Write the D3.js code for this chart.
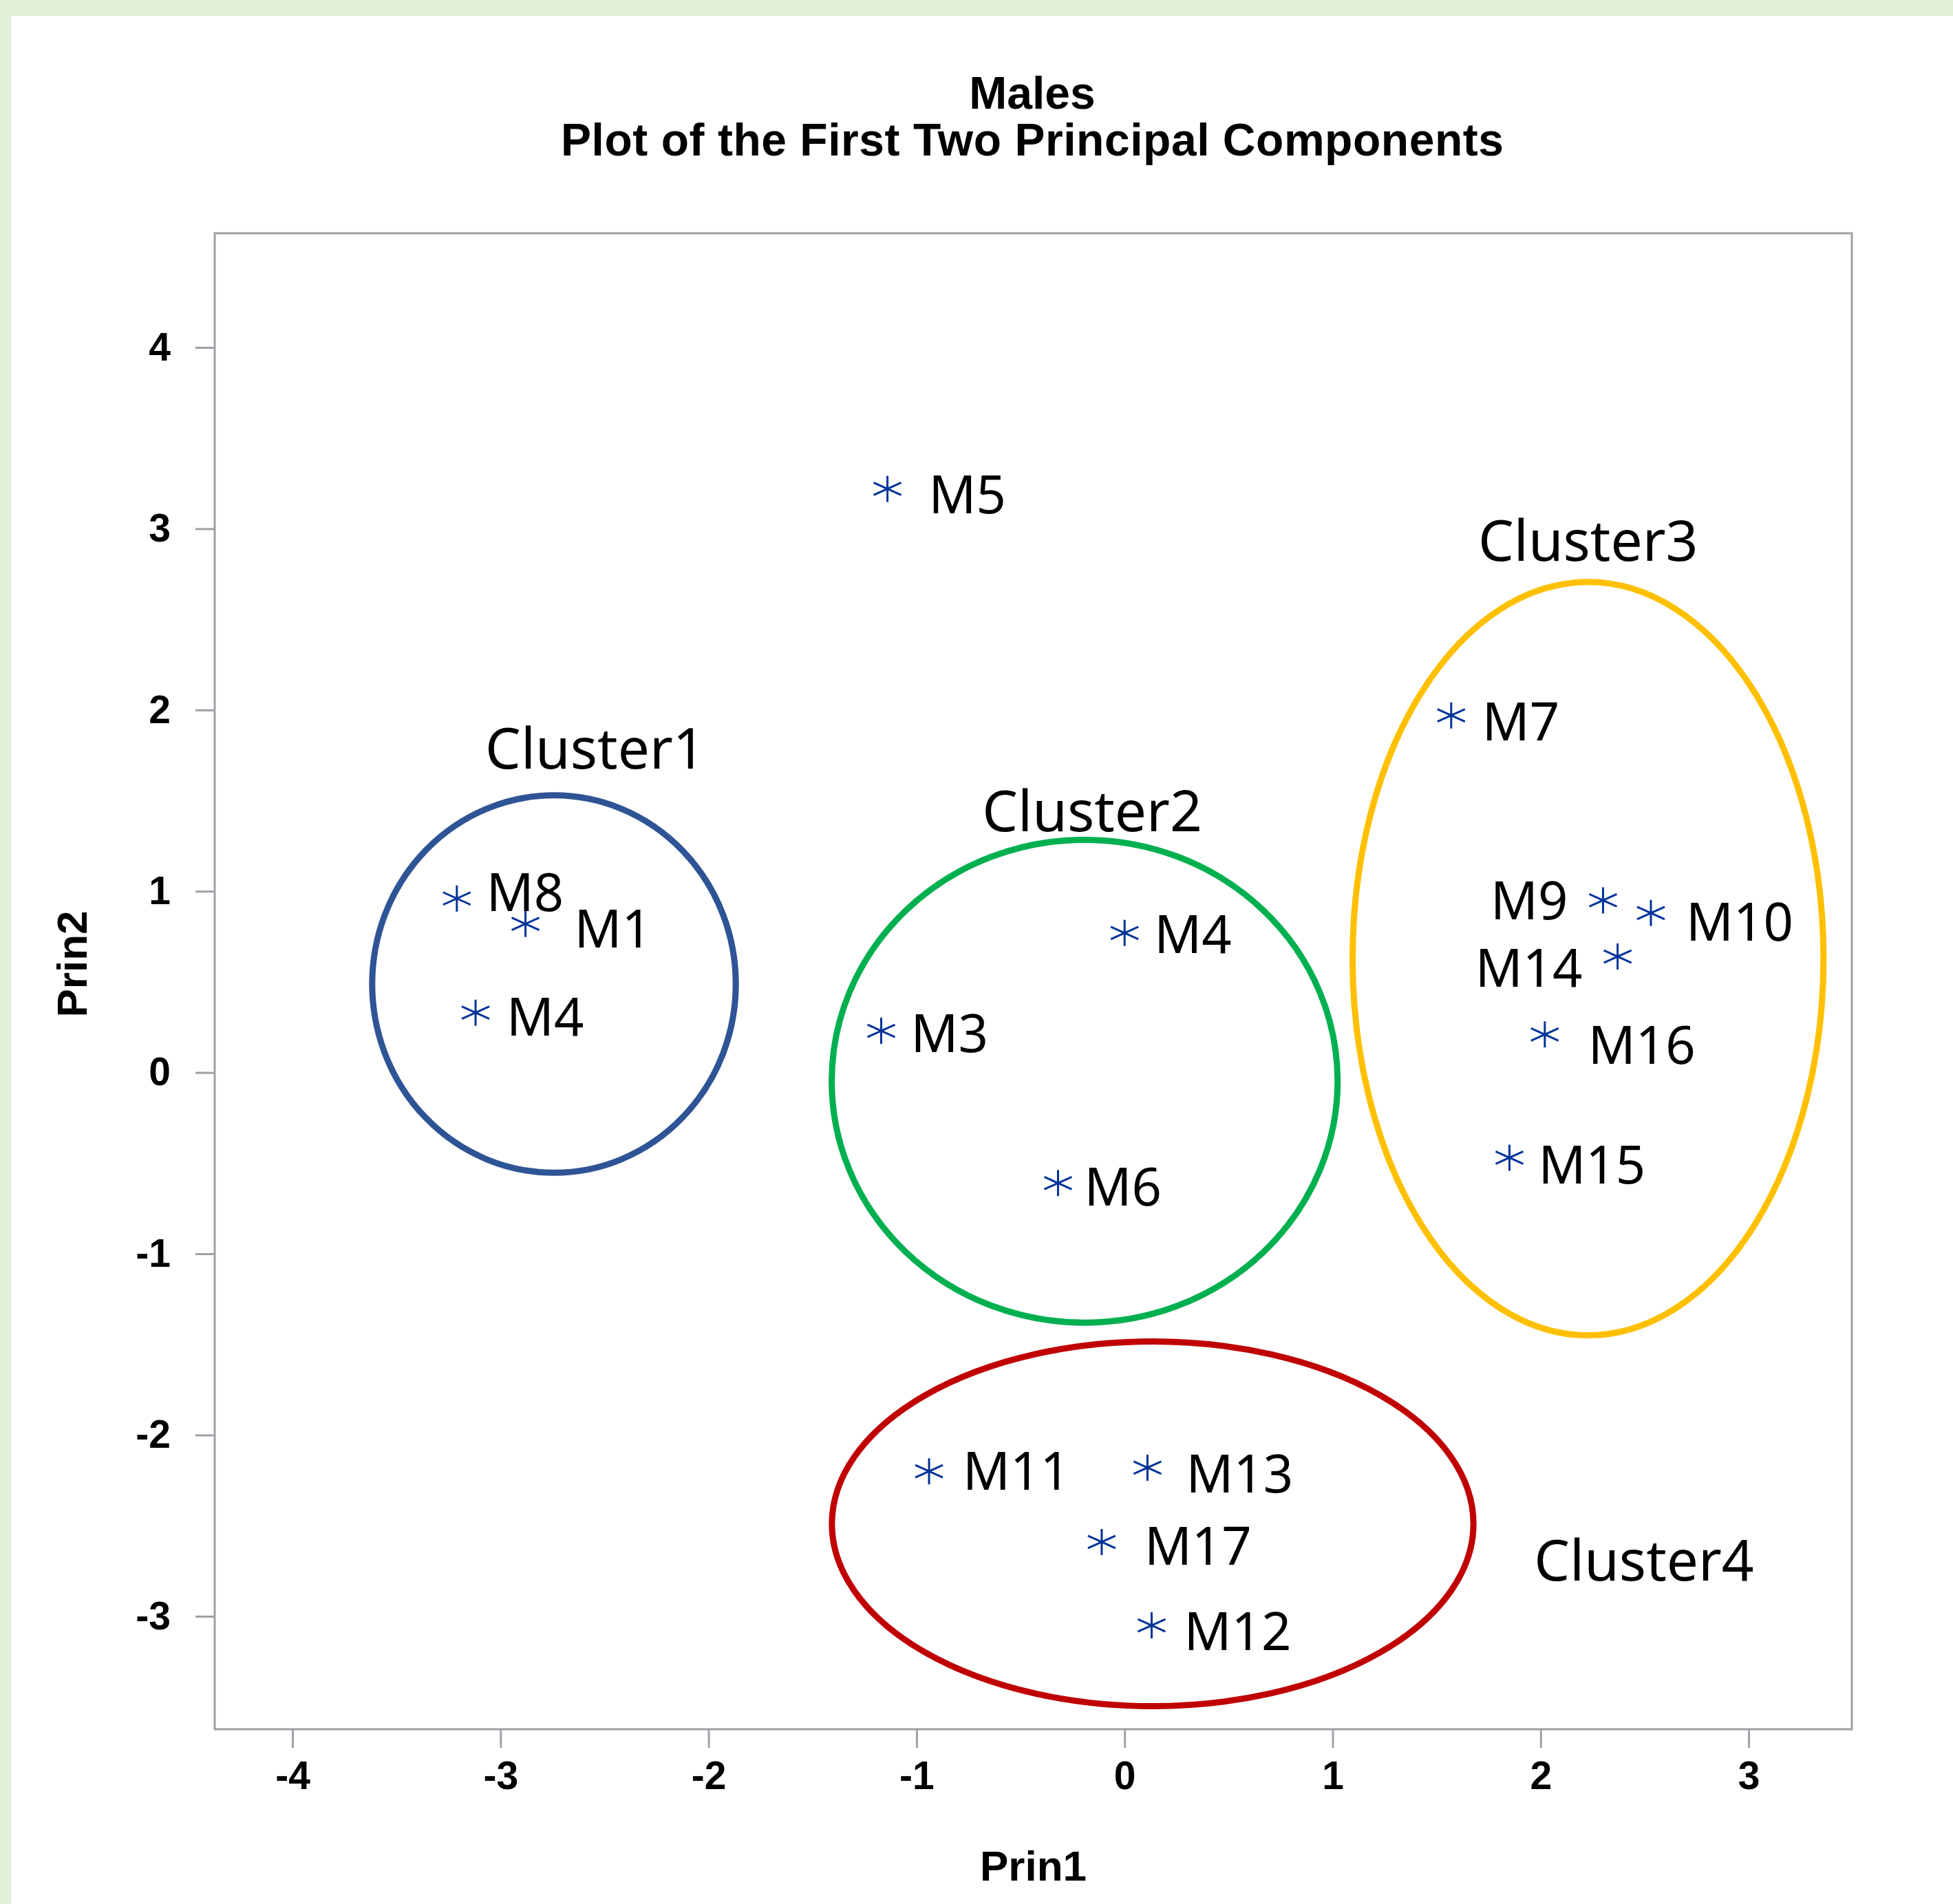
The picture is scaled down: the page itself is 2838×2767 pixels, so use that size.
<!DOCTYPE html>
<html>
<head>
<meta charset="utf-8">
<script src="https://cdn.jsdelivr.net/npm/d3@7"></script>
<style>
  body { margin: 0; padding: 0; background: #ffffff; }
  svg { display: block; }
</style>
</head>
<body>
<svg id="chart" width="2838" height="2767"></svg>
<script>
// ---------- data ----------
const pointNames = ["M5","M8","M1","M4","M4","M3","M6","M7","M9","M10","M14","M16","M15","M11","M13","M17","M12"];
const prin1 = [-1.14,-3.21,-2.88,-3.12,0.00,-1.17,-0.32,1.57,2.30,2.53,2.37,2.02,1.85,-0.94,0.11,-0.11,0.13];
const prin2 = [3.22,0.96,0.82,0.33,0.77,0.23,-0.61,1.97,0.95,0.88,0.64,0.21,-0.47,-2.20,-2.18,-2.59,-3.05];

const clusterNames = ["Cluster1","Cluster2","Cluster3","Cluster4"];
const clusterCx = [-2.743,-0.192,2.228,0.135];
const clusterCy = [0.488,-0.048,0.628,-2.490];
const clusterRx = [0.874,1.216,1.132,1.542];
const clusterRy = [1.041,1.332,2.078,1.006];
const clusterLabelX = [-2.545,-0.156,2.228,2.497];
const clusterLabelY = [1.676,1.332,2.823,-2.802];

const xTicks = [-4,-3,-2,-1,0,1,2,3];
const yTicks = [-3,-2,-1,0,1,2,3,4];
const titleLines = ["Males","Plot of the First Two Principal Components"];
const xLabel = "Prin1";
const yLabel = "Prin2";

// ---------- styles / layout ----------
const clusterColors = ["#2f5496","#00b050","#ffc000","#c00000"];
// label offsets in px relative to star (dx, dy, anchor)
const labelOffsets = [
  [60,36,"start"],[43,18,"start"],[71,34,"start"],[45,33,"start"],[43,29,"start"],
  [43,31,"start"],[38,33,"start"],[45,36,"start"],[-51,28,"end"],[51,40,"start"],
  [-51,44,"end"],[63,43,"start"],[42,38,"start"],[49,27,"start"],[56,36,"start"],
  [62,33,"start"],[47,36,"start"]
];

const W = 2838, H = 2767;
const frame = {left: 312, top: 339, right: 2691, bottom: 2513};
const axisColor = "#9da1a5";

const svg = d3.select("#chart");

// background
svg.append("rect").attr("x",0).attr("y",0).attr("width",W).attr("height",H).attr("fill","#ffffff");
svg.append("rect").attr("x",0).attr("y",0).attr("width",W).attr("height",23).attr("fill","#e3efd9");
svg.append("rect").attr("x",0).attr("y",0).attr("width",16).attr("height",H).attr("fill","#e3efd9");

// scales
const x = d3.scaleLinear().domain([-4.374, 3.496]).range([frame.left, frame.right]);
const y = d3.scaleLinear().domain([-3.623, 4.630]).range([frame.bottom, frame.top]);

// title
const titleG = svg.append("g")
  .attr("font-family", "'Liberation Sans', Arial, sans-serif")
  .attr("font-weight", "bold")
  .attr("font-size", 66)
  .attr("fill", "#000")
  .attr("text-anchor", "middle");
titleG.append("text").attr("x", 1500).attr("y", 158).text(titleLines[0]);
titleG.append("text").attr("x", 1500).attr("y", 226)
  .attr("textLength", 1370).attr("lengthAdjust", "spacing")
  .text(titleLines[1]);

// axes
const xAxis = d3.axisBottom(x).tickValues(xTicks).tickSize(27).tickPadding(20).tickFormat(d3.format("d"));
const yAxis = d3.axisLeft(y).tickValues(yTicks).tickSize(28).tickPadding(36).tickFormat(d3.format("d"));

const gx = svg.append("g").attr("transform", `translate(0,${frame.bottom})`).call(xAxis);
const gy = svg.append("g").attr("transform", `translate(${frame.left},0)`).call(yAxis);
[gx, gy].forEach(g => {
  g.select(".domain").remove();
  g.selectAll(".tick line").attr("stroke", axisColor).attr("stroke-width", 3);
  g.selectAll(".tick text")
    .attr("font-family", "'Liberation Sans', Arial, sans-serif")
    .attr("font-weight", "bold")
    .attr("font-size", 57)
    .attr("fill", "#000")
    .text(d => d < 0 ? "-" + Math.abs(d) : String(d));
});

// frame
svg.append("rect")
  .attr("x", frame.left).attr("y", frame.top)
  .attr("width", frame.right - frame.left).attr("height", frame.bottom - frame.top)
  .attr("fill", "none").attr("stroke", axisColor).attr("stroke-width", 3);

// axis labels
svg.append("text")
  .attr("x", (frame.left + frame.right) / 2).attr("y", 2733)
  .attr("text-anchor", "middle")
  .attr("font-family", "'Liberation Sans', Arial, sans-serif")
  .attr("font-weight", "bold").attr("font-size", 62).attr("fill", "#000")
  .text(xLabel);
svg.append("text")
  .attr("transform", `translate(126,${(y(4.630)+y(-3.623))/2 - 25}) rotate(-90)`)
  .attr("text-anchor", "middle")
  .attr("font-family", "'Liberation Sans', Arial, sans-serif")
  .attr("font-weight", "bold").attr("font-size", 62).attr("fill", "#000")
  .text(yLabel);

// cluster ellipses
const clusters = clusterNames.map((n, i) => ({
  name: n, cx: clusterCx[i], cy: clusterCy[i], rx: clusterRx[i], ry: clusterRy[i],
  lx: clusterLabelX[i], ly: clusterLabelY[i], color: clusterColors[i]
}));
svg.append("g").selectAll("ellipse").data(clusters).join("ellipse")
  .attr("cx", d => x(d.cx)).attr("cy", d => y(d.cy))
  .attr("rx", d => x(d.cx + d.rx) - x(d.cx))
  .attr("ry", d => y(d.cy) - y(d.cy + d.ry))
  .attr("fill", "none").attr("stroke", d => d.color).attr("stroke-width", 9);

svg.append("g").selectAll("text").data(clusters).join("text")
  .attr("x", d => x(d.lx)).attr("y", d => y(d.ly))
  .attr("text-anchor", "middle")
  .attr("font-family", "'Noto Sans', 'Open Sans', sans-serif")
  .attr("font-size", 82).attr("fill", "#000")
  .text(d => d.name);

// points
const points = pointNames.map((n, i) => ({name: n, px: prin1[i], py: prin2[i], off: labelOffsets[i]}));
const starPath = "M0,-19L0,19M-20,-9L20,9M-20,9L20,-9";
svg.append("g").selectAll("path").data(points).join("path")
  .attr("transform", d => `translate(${x(d.px)},${y(d.py)})`)
  .attr("d", starPath)
  .attr("fill", "none").attr("stroke", "#003399").attr("stroke-width", 3);

svg.append("g").selectAll("text").data(points).join("text")
  .attr("x", d => x(d.px) + d.off[0]).attr("y", d => y(d.py) + d.off[1])
  .attr("text-anchor", d => d.off[2])
  .attr("font-family", "'Noto Sans', 'Open Sans', sans-serif")
  .attr("font-size", 76).attr("fill", "#000")
  .text(d => d.name);
</script>
</body>
</html>
